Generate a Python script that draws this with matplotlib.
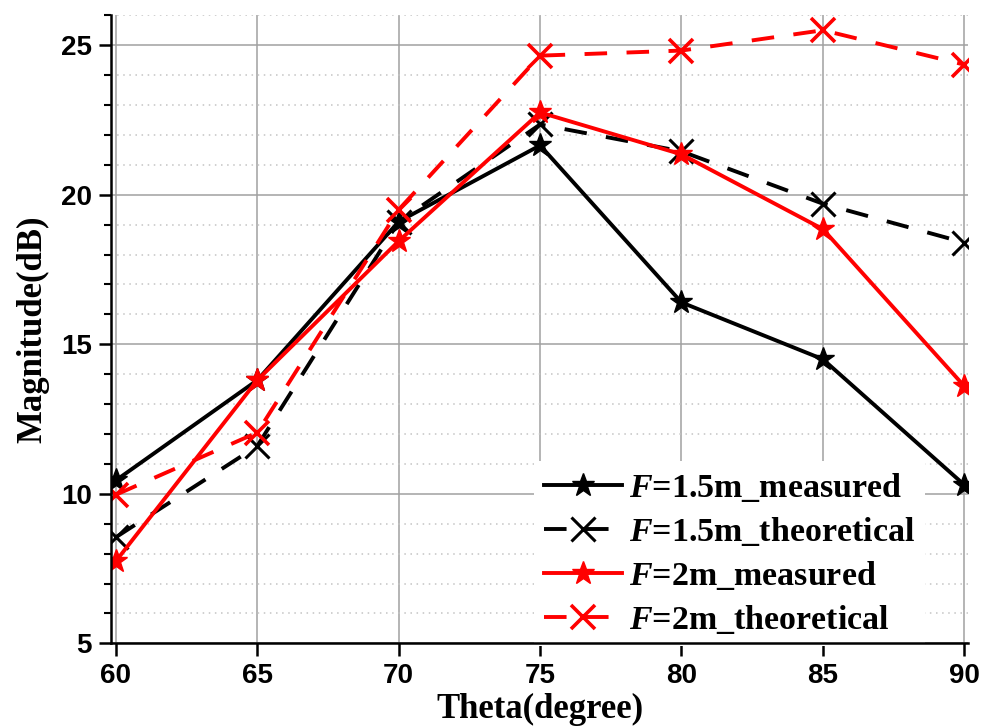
import matplotlib
matplotlib.use('Agg')
import matplotlib.pyplot as plt
from matplotlib.ticker import MultipleLocator

# data
theta = [60, 65, 70, 75, 80, 85, 90]
f15_measured = [10.45, 13.8, 19.1, 21.65, 16.4, 14.5, 10.3]
f15_theoretical = [8.55, 11.6, 19.1, 22.35, 21.45, 19.7, 18.4]
f2_measured = [7.75, 13.8, 18.45, 22.75, 21.35, 18.85, 13.6]
f2_theoretical = [9.97, 12.05, 19.5, 24.65, 24.82, 25.5, 24.35]

labels = ['$F$=1.5m_measured', '$F$=1.5m_theoretical',
          '$F$=2m_measured', '$F$=2m_theoretical']

plt.rcParams['mathtext.fontset'] = 'custom'
plt.rcParams['mathtext.it'] = 'Liberation Serif:italic:bold'
plt.rcParams['mathtext.rm'] = 'Liberation Serif:bold'

fig = plt.figure(figsize=(9.83, 7.27), dpi=100)
ax = fig.add_axes([0.113, 0.115, 0.872, 0.864])

lw = 2.8
dash = (0, (5.8, 5.0))
ax.plot(theta, f15_measured, color='black', lw=lw, marker='*', ms=17, label=labels[0], zorder=3)
ax.plot(theta, f15_theoretical, color='black', lw=lw, linestyle=dash, marker='x', ms=17, mew=2.2, label=labels[1], zorder=3)
ax.plot(theta, f2_measured, color='red', lw=lw, marker='*', ms=17, label=labels[2], zorder=4)
ax.plot(theta, f2_theoretical, color='red', lw=lw, linestyle=dash, marker='x', ms=17, mew=2.6, label=labels[3], zorder=4)

ax.set_xlim(59.83, 90.14)
ax.set_ylim(5, 26)
ax.xaxis.set_major_locator(MultipleLocator(5))
ax.yaxis.set_major_locator(MultipleLocator(5))
ax.yaxis.set_minor_locator(MultipleLocator(1))

ax.grid(True, which='major', color='#a0a0a0', lw=1.1, zorder=0)
ax.grid(True, which='minor', axis='y', color='#c4c4c4', lw=1.1, linestyle=(0, (1, 3)), zorder=0)
ax.set_axisbelow(True)

for side in ['top', 'right']:
    ax.spines[side].set_visible(False)
for side in ['left', 'bottom']:
    ax.spines[side].set_linewidth(1.8)
    ax.spines[side].set_zorder(10)

ax.tick_params(which='major', direction='out', length=9, width=1.8, labelsize=20, pad=5)
ax.tick_params(which='minor', direction='out', length=5, width=1.5)
for lab in ax.get_xticklabels() + ax.get_yticklabels():
    lab.set_fontfamily('Liberation Sans')
    lab.set_fontweight('bold')

ax.set_xlabel('Theta(degree)', fontfamily='Liberation Serif', fontweight='bold', fontsize=25, labelpad=3)
ax.set_ylabel('Magnitude(dB)', fontfamily='Liberation Serif', fontweight='bold', fontsize=25, labelpad=8)

leg = ax.legend(loc='upper left', bbox_to_anchor=(0.473, 0.318), numpoints=1,
                prop={'family': 'Liberation Serif', 'weight': 'bold', 'size': 24.5},
                handlelength=2.3, handletextpad=0.2, labelspacing=0.32,
                borderpad=0.3, framealpha=1, facecolor='white', edgecolor='none', fancybox=False)

fig.savefig('out.png', dpi=100)
